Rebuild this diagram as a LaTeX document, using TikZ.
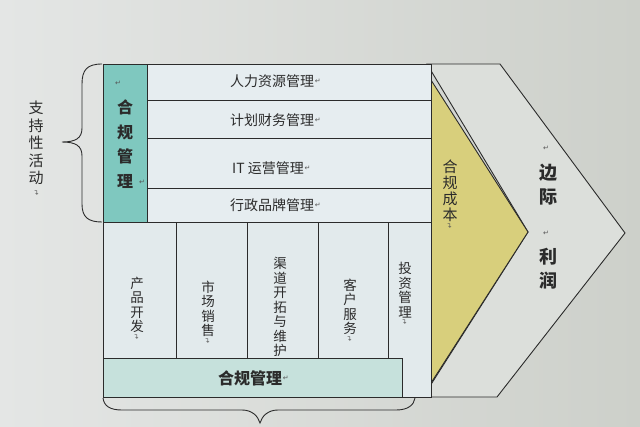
\documentclass[tikz,border=0pt]{standalone}
\usepackage{fontspec}
\setmainfont{Noto Sans CJK SC}
\newfontfamily\dvfont{DejaVu Sans}
\definecolor{bgL}{HTML}{E4E6E5}
\definecolor{bgR}{HTML}{CDD0CA}
\definecolor{rowfill}{HTML}{E6EDF0}
\definecolor{colfill}{HTML}{E2EAEC}
\definecolor{tealfill}{HTML}{7FC8BF}
\definecolor{barfill}{HTML}{C6E1DC}
\definecolor{yelfill}{HTML}{D8CF7C}
\definecolor{chevfill}{HTML}{DCDFDB}
\definecolor{ink}{HTML}{2B2B2B}
\begin{document}
\begin{tikzpicture}[x=1pt,y=-1pt,
  cell/.style={draw=ink, line width=0.9pt, inner sep=0pt, outer sep=0pt, anchor=north west},
  lbl/.style={text=ink, inner sep=0pt, font=\fontsize{14}{14}\selectfont},
  vlbl/.style={text=ink, inner sep=0pt, align=center, font=\fontsize{13.5}{14.5}\selectfont},
  mk/.style={text=ink!80, inner sep=0.5pt, font=\dvfont\fontsize{7}{7}\selectfont}]
\useasboundingbox (0,0) rectangle (640,426);
\fill[left color=bgL, right color=bgR] (0,0) rectangle (640,426);
% chevron
\filldraw[fill=chevfill, draw=ink, line width=0.9pt]
  (427,64) coordinate (cA) -- (500,64) coordinate (cB) -- (625,233) coordinate (cTip)
  -- (497,397) coordinate (cC) -- (423,397) coordinate (cD) -- (528,232) coordinate (cN) -- cycle;
% yellow triangle
\filldraw[fill=yelfill, draw=ink, line width=0.9pt] (431,80) -- (528,232) -- (431,383) -- cycle;
% support rows
\node[cell, fill=rowfill, minimum width=284, minimum height=36] (r1) at (147,64) {};
\node[cell, fill=rowfill, minimum width=284, minimum height=38] (r2) at (147,100) {};
\node[cell, fill=rowfill, minimum width=284, minimum height=50] (r3) at (147,138) {};
\node[cell, fill=rowfill, minimum width=284, minimum height=34] (r4) at (147,188) {};
\node[cell, fill=tealfill, minimum width=44, minimum height=158] (teal) at (103,64) {};
% primary columns
\node[cell, fill=colfill, minimum width=73, minimum height=136] (p1) at (103,222) {};
\node[cell, fill=colfill, minimum width=71, minimum height=136] (p2) at (176,222) {};
\node[cell, fill=colfill, minimum width=71, minimum height=136] (p3) at (247,222) {};
\node[cell, fill=colfill, minimum width=70, minimum height=136] (p4) at (318,222) {};
\node[cell, fill=colfill, minimum width=43, minimum height=175] (p5) at (388,222) {};
\node[cell, fill=barfill, minimum width=299, minimum height=39] (bar) at (103,358) {};
% braces
\draw[ink, line width=0.9pt] (102,64) .. controls (87,64) and (82,70) .. (82,84) -- (82,128)
  .. controls (82,138) and (76,142) .. (62,142) .. controls (76,142) and (82,146) .. (82,156)
  -- (82,204) .. controls (82,217) and (88,222) .. (102,222);
\draw[ink, line width=0.9pt] (103,398) .. controls (104,406) and (110,410) .. (122,410) -- (242,410)
  .. controls (252,410) and (258,416) .. (260,423) .. controls (262,416) and (268,410) .. (278,410)
  -- (396,410) .. controls (408,410) and (414,405) .. (415,398);
% support texts
\node[lbl] (t1) at (272,81) {人力资源管理};
\node[mk, anchor=west] at (t1.east) {↵};
\node[lbl] (t2) at (272,120) {计划财务管理};
\node[mk, anchor=west] at (t2.east) {↵};
\node[lbl] (t3) at (268,168) {IT 运营管理};
\node[mk, anchor=west] at (t3.east) {↵};
\node[lbl] (t4) at (272,205) {行政品牌管理};
\node[mk, anchor=west] at (t4.east) {↵};
\node[vlbl, font=\bfseries\fontsize{16}{24.5}\selectfont] (tt) at (125,144) {合\\规\\管\\理};
\node[mk] at (118,83) {↵};
\node[mk] at (142,182) {↵};
\node[vlbl, font=\fontsize{15}{17.5}\selectfont] (side) at (36,143) {支\\持\\性\\活\\动};
\node[mk, rotate=90] at (37,193) {↵};
% primary texts
\node[vlbl] (q1) at (137,305) {产\\品\\开\\发};
\node[mk, rotate=90] at (q1.south) [anchor=east] {↵};
\node[vlbl] (q2) at (208,309) {市\\场\\销\\售};
\node[mk, rotate=90, anchor=east] at (q2.south) {↵};
\node[vlbl] (q3) at (280,307) {渠\\道\\开\\拓\\与\\维\\护};
\node[vlbl] (q4) at (350,307) {客\\户\\服\\务};
\node[mk, rotate=90, anchor=east] at (q4.south) {↵};
\node[vlbl] (q5) at (405,290) {投\\资\\管\\理};
\node[mk, rotate=90, anchor=east] at (q5.south) {↵};
\node[lbl, font=\bfseries\fontsize{16}{16}\selectfont] (tb) at (250,378) {合规管理};
\node[mk, anchor=west] at (tb.east) {↵};
% cost & margin
\node[vlbl, font=\fontsize{15}{16}\selectfont] (cost) at (450,191) {合\\规\\成\\本};
\node[mk, rotate=90, anchor=east] at (cost.south) {↵};
\node[mk] at (546,148) {↵};
\node[vlbl, font=\bfseries\fontsize{18}{24}\selectfont] (m1) at (548,185) {边\\际};
\node[mk] at (546,233) {↵};
\node[vlbl, font=\bfseries\fontsize{18}{24}\selectfont] (m2) at (548,269) {利\\润};
\end{tikzpicture}
\end{document}
